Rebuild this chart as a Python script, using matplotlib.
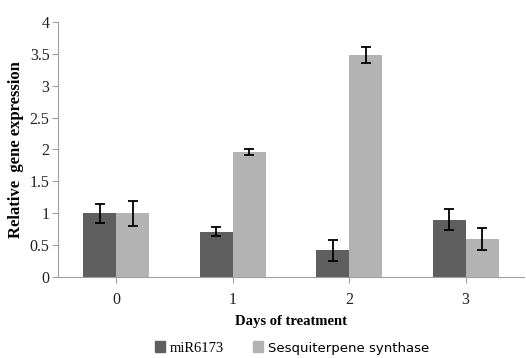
import numpy as np
import matplotlib
matplotlib.use("Agg")
import matplotlib.pyplot as plt
from matplotlib.patches import Patch

days = ["0", "1", "2", "3"]
mir = [1.0, 0.71, 0.42, 0.90]
mir_err = [0.15, 0.07, 0.16, 0.16]
sesq = [1.0, 1.96, 3.48, 0.60]
sesq_err = [0.20, 0.04, 0.13, 0.17]

dark = "#5f5f5f"
light = "#b3b3b3"
axcol = "#a0a0a0"

fig = plt.figure(figsize=(5.26, 3.58), dpi=100)
ax = fig.add_axes([0.110, 0.226, 0.886, 0.713])

x = np.arange(len(days))
w = 0.283
ekw = dict(elinewidth=1.3, capthick=1.3, ecolor="black")
ax.bar(x - w / 2, mir, w, color=dark, yerr=mir_err, capsize=3.5, error_kw=ekw)
ax.bar(x + w / 2, sesq, w, color=light, yerr=sesq_err, capsize=3.5, error_kw=ekw)

ax.set_xlim(-0.5, 3.5)
ax.set_ylim(0, 4)
ax.set_xticks(x)
ax.set_xticklabels(days)
ax.set_yticks(np.arange(0, 4.01, 0.5))
ax.set_yticklabels(["0", "0.5", "1", "1.5", "2", "2.5", "3", "3.5", "4"])

for s in ["top", "right"]:
    ax.spines[s].set_visible(False)
for s in ["left", "bottom"]:
    ax.spines[s].set_color(axcol)
ax.tick_params(axis="both", colors=axcol, labelcolor="#222222", labelsize=11.5,
               length=4, width=0.8)
ax.tick_params(axis="y", pad=2)
ax.tick_params(axis="x", pad=7)
for lab in ax.get_xticklabels() + ax.get_yticklabels():
    lab.set_family("Liberation Serif")

ax.set_ylabel("Relative  gene expression", family="Liberation Serif",
              fontweight="bold", fontsize=12, labelpad=4)
ax.set_xlabel("Days of treatment", family="Liberation Serif",
              fontweight="bold", fontsize=10.5, labelpad=5)

handles = [Patch(color=dark), Patch(color=light)]
leg = fig.legend(handles, ["miR6173", "Sesquiterpene synthase"], loc="center",
                 bbox_to_anchor=(0.555, 0.028), ncol=2, frameon=False,
                 fontsize=10.5, handlelength=0.7, handleheight=0.7,
                 handletextpad=0.3, columnspacing=2.0)
txts = leg.get_texts()
txts[0].set_family("Liberation Serif")
txts[1].set_family("DejaVu Sans")
txts[1].set_fontsize(9.5)

fig.savefig("out.png", dpi=100)
